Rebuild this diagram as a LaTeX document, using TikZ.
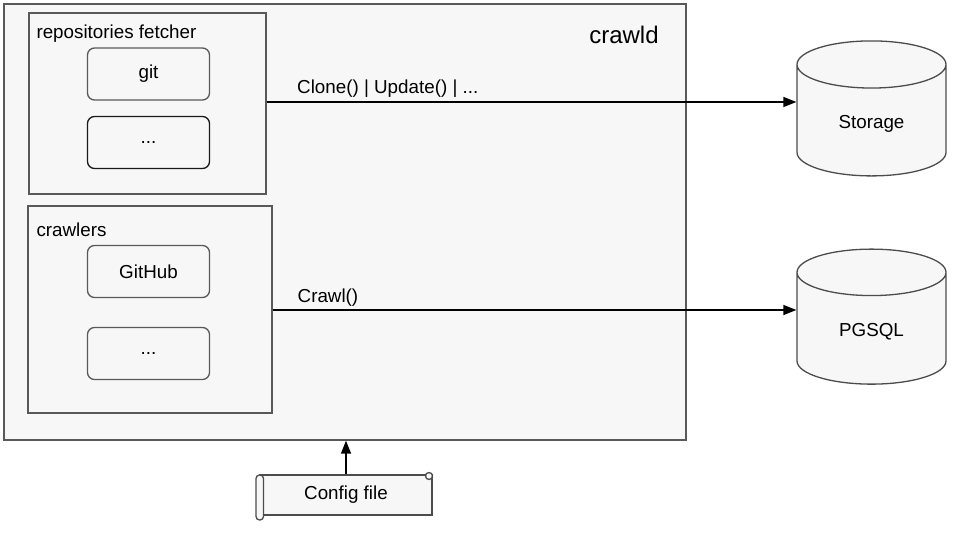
\documentclass[tikz,border=0pt]{standalone}
\usepackage{fontspec}
\setmainfont{Liberation Sans}
\usetikzlibrary{shapes.geometric,positioning,arrows.meta}

\begin{document}
\begin{tikzpicture}[x=1pt,y=-1pt,
	font=\fontsize{18.8}{22}\selectfont,
	groupbox/.style={draw=black!65, line width=1.3pt, fill=black!3},
	itembox/.style={draw=black!65, line width=1.3pt, fill=black!3, rounded corners=7pt, minimum width=122pt, minimum height=52pt},
	dbnode/.style={cylinder, shape border rotate=90, aspect=0.65, draw=black!70, line width=1.3pt, fill=black!3, minimum width=149pt, minimum height=135pt},
	flow/.style={-{Triangle[length=13pt,width=10pt]}, line width=1.5pt}]
	\useasboundingbox (0,0) rectangle (960,540);

	% crawld and its parts
	\node[groupbox, minimum width=682pt, minimum height=436pt] (crawld) at (345,222) {};
	\node[font=\fontsize{24}{28}\selectfont] (crawldlabel) at (624,35) {crawld};

	\node[groupbox, minimum width=237pt, minimum height=181pt] (fetcher) at (147.5,103.5) {};
	\node[anchor=west] (fetcherlabel) at (33,34) {repositories fetcher};
	\node[itembox] (git) at (148.5,74) {git};
	\node[itembox, draw=black!90] (fetchmore) at (148.5,142.5) {...};

	\node[groupbox, minimum width=244pt, minimum height=207pt] (crawlers) at (150,309.5) {};
	\node[anchor=west] (crawlerslabel) at (33,230) {crawlers};
	\node[itembox] (github) at (148.5,271.5) {GitHub};
	\node[itembox] (crawlmore) at (148.5,353.5) {...};

	% stores
	\node[dbnode] (storage) at (871.5,124) {Storage};
	\node[dbnode] (pgsql) at (871.5,332) {PGSQL};

	\draw[flow] (fetcher.east |- 0,102) -- node[anchor=south west, pos=0.05] {Clone() | Update() | ...} (storage.west |- 0,102);
	\draw[flow] (crawlers.east |- 0,310) -- node[anchor=south west, pos=0.04] {Crawl()} (pgsql.west |- 0,310);

	% config file scroll
	\node[draw=black!70, line width=1.3pt, fill=black!3, minimum width=172pt, minimum height=40pt, inner sep=0pt] (config) at (346,495) {Config file};
	\draw[black!70, line width=1.3pt, fill=black!3, rounded corners=3.5pt] (256,475) rectangle (263.5,520);
	\draw[black!70, line width=1.3pt, fill=black!3] (429,476) circle (3.5pt);
	\draw[flow] (config.north) -- (crawld.south -| config.north);
\end{tikzpicture}
\end{document}
